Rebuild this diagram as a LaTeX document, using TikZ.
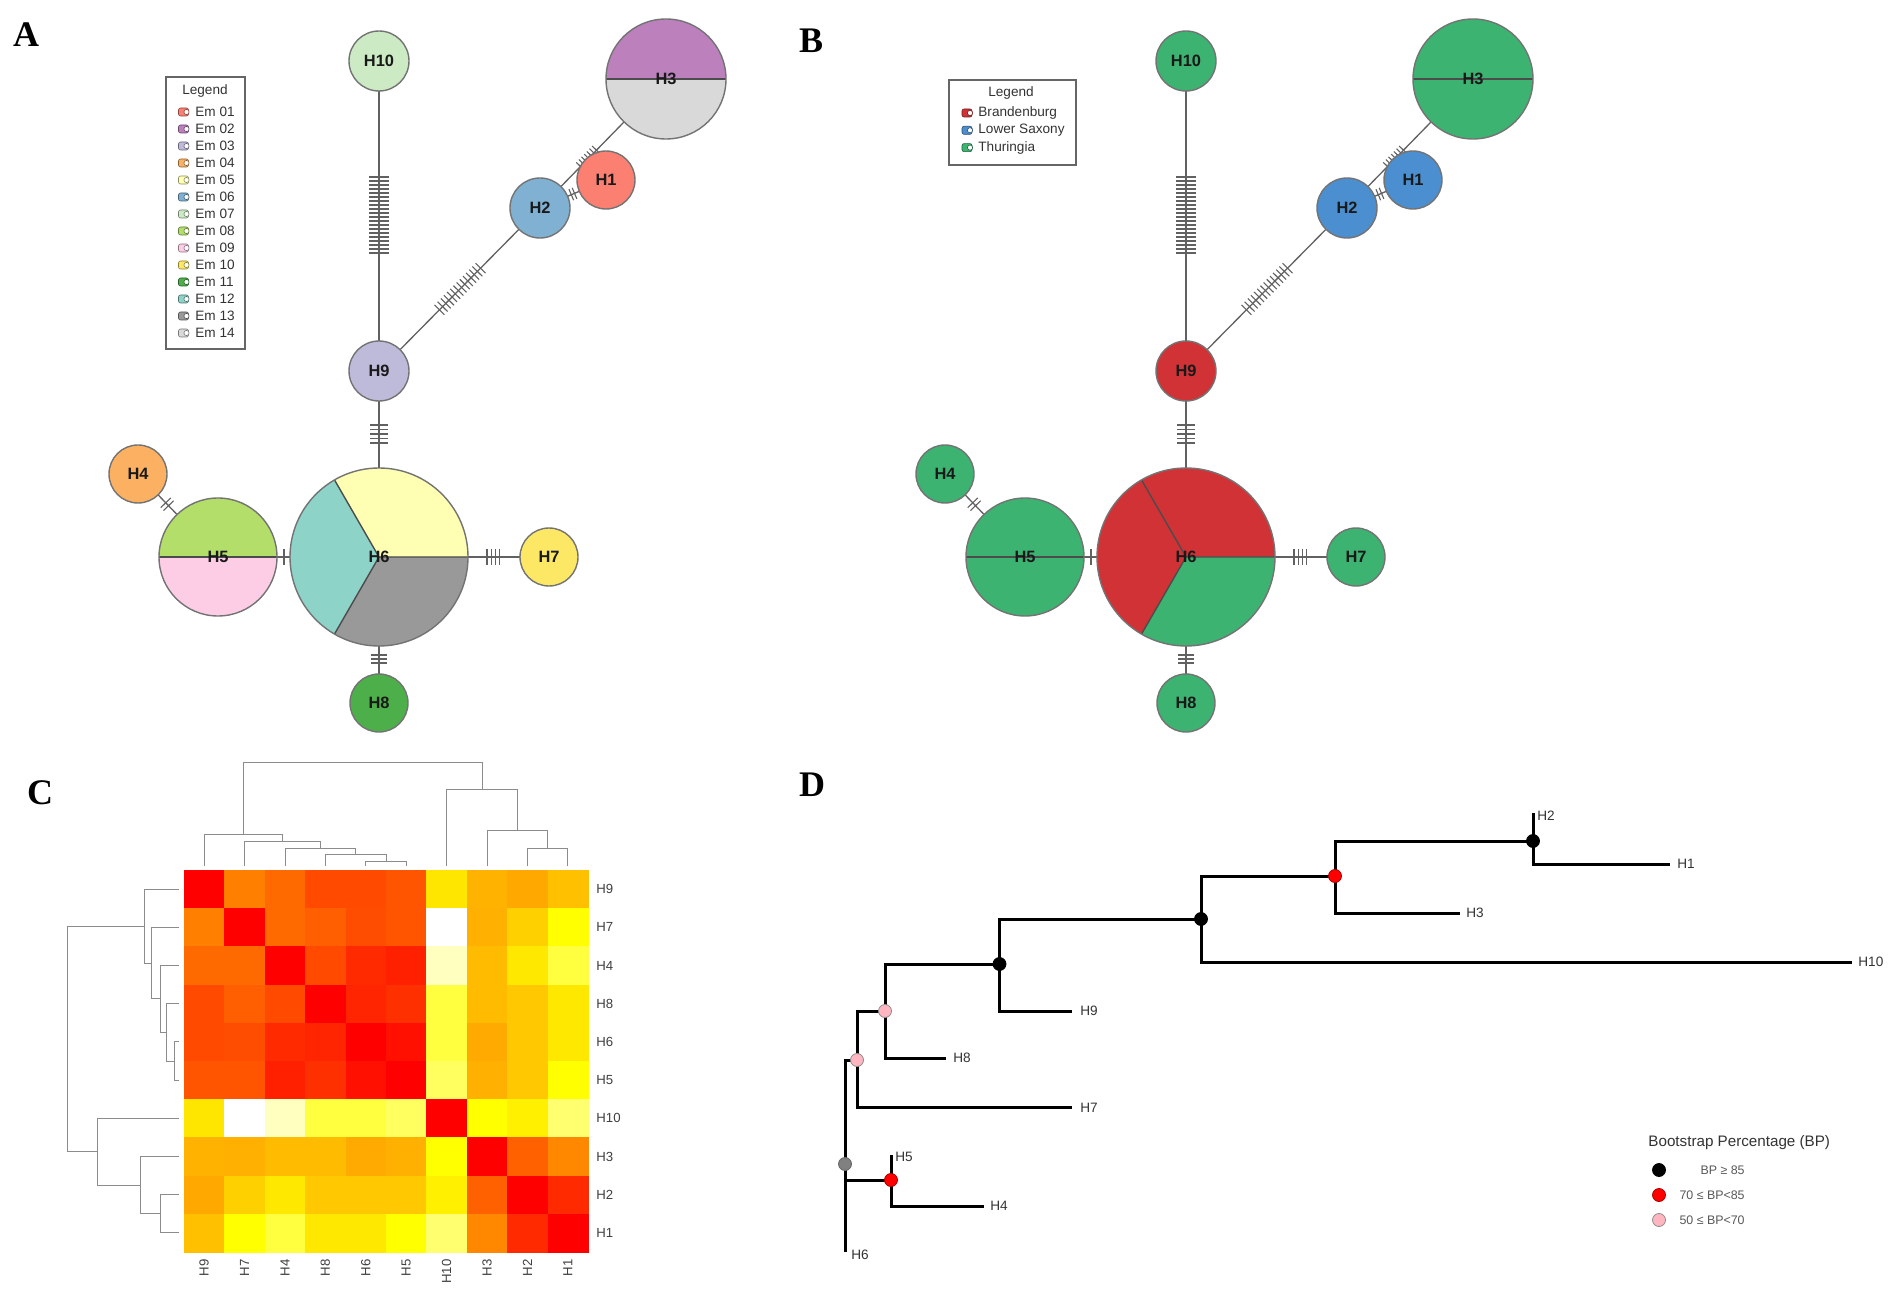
\documentclass[tikz,border=0pt]{standalone}
\usepackage{fontspec}
\setmainfont{Liberation Sans}
\newfontfamily\mypanelfam{Liberation Serif}
\usetikzlibrary{calc}
\pgfdeclarelayer{back}
\pgfdeclarelayer{bg}
\pgfsetlayers{back,bg,main}

\definecolor{em01}{HTML}{FB8072}
\definecolor{em02}{HTML}{BC80BD}
\definecolor{em03}{HTML}{BEBADA}
\definecolor{em04}{HTML}{FBB062}
\definecolor{em05}{HTML}{FFFFB3}
\definecolor{em06}{HTML}{80B1D3}
\definecolor{em07}{HTML}{CCEBC5}
\definecolor{em08}{HTML}{B3DE69}
\definecolor{em09}{HTML}{FCCDE5}
\definecolor{em10}{HTML}{FDE865}
\definecolor{em11}{HTML}{4DAF4A}
\definecolor{em12}{HTML}{8DD3C7}
\definecolor{em13}{HTML}{999999}
\definecolor{em14}{HTML}{D9D9D9}
\definecolor{brand}{HTML}{D03236}
\definecolor{lsax}{HTML}{4B8FD0}
\definecolor{thur}{HTML}{3CB371}
\definecolor{bspinkc}{HTML}{FFB6C1}

% panel A colours
\colorlet{aH1}{em01}\colorlet{aH2}{em06}\colorlet{aH3t}{em02}\colorlet{aH3b}{em14}
\colorlet{aH4}{em04}\colorlet{aH5t}{em08}\colorlet{aH5b}{em09}\colorlet{aH6a}{em05}
\colorlet{aH6b}{em12}\colorlet{aH6c}{em13}\colorlet{aH7}{em10}\colorlet{aH8}{em11}
\colorlet{aH9}{em03}\colorlet{aH10}{em07}
% panel B colours
\colorlet{bH1}{lsax}\colorlet{bH2}{lsax}\colorlet{bH3t}{thur}\colorlet{bH3b}{thur}
\colorlet{bH4}{thur}\colorlet{bH5t}{thur}\colorlet{bH5b}{thur}\colorlet{bH6a}{brand}
\colorlet{bH6b}{brand}\colorlet{bH6c}{thur}\colorlet{bH7}{thur}\colorlet{bH8}{thur}
\colorlet{bH9}{brand}\colorlet{bH10}{thur}

\newcommand\myhapfont{\fontsize{8.2}{9}\selectfont\bfseries}
\newcommand\mylegfont{\fontsize{6.8}{8}\selectfont}
\newcommand\myhmfont{\fontsize{6.6}{8}\selectfont}
\newcommand\mytreefont{\fontsize{6.8}{8}\selectfont}
\newcommand\mypanelfont{\mypanelfam\bfseries\fontsize{18}{20}\selectfont}

\tikzset{
 hap/.style={circle, draw=black!55, line width=0.7pt, inner sep=0pt, font=\myhapfont, text=black!90},
 netedge/.style={draw=black!62, line width=0.65pt},
 tickst/.style={draw=black!62, line width=0.55pt},
 divl/.style={draw=black!70, line width=0.7pt},
 legbox/.style={draw=black!60, line width=0.6pt},
 legtxt/.style={font=\mylegfont, text=black!80, inner sep=0pt},
 dend/.style={draw=black!45, line width=0.5pt},
 hmlab/.style={font=\myhmfont, text=black!75, inner sep=0pt},
 treeln/.style={draw=black, line width=1.5pt, line cap=butt, line join=miter},
 treelab/.style={font=\mytreefont, text=black!80, inner sep=0pt, anchor=west},
 bsnode/.style={circle, inner sep=0pt, minimum size=6.5pt, line width=0.4pt},
 bsblack/.style={bsnode, fill=black, draw=black},
 bsred/.style={bsnode, fill=red, draw=red!65!black},
 bspink/.style={bsnode, fill=bspinkc, draw=black!45},
 bsgrey/.style={bsnode, fill=black!50, draw=black!60},
 panel/.style={font=\mypanelfont, inner sep=0pt},
}

% ticks: A, B, start distance (px), count, spacing (px), half length (px)
\newcommand\myhatch[6]{%
 \foreach \k in {1,...,#4}{%
  \pgfmathsetmacro\dd{(#3+(\k-1)*#5)/2}%
  \pgfmathsetmacro\hl{#6/2}%
  \coordinate (tk) at ($(#1.center)!\dd pt!(#2.center)$);
  \draw[tickst] ($(tk)!\hl pt!90:(#2.center)$) -- ($(tk)!\hl pt!-90:(#2.center)$);
 }}

\newcommand\myhalfpie[4]{%
 \fill[#3] (#1) -- ++(0:#2) arc[start angle=0,end angle=180,radius=#2] -- cycle;
 \fill[#4] (#1) -- ++(180:#2) arc[start angle=180,end angle=360,radius=#2] -- cycle;
 \draw[divl] ($(#1)+(180:#2)$) -- ($(#1)+(0:#2)$);
}
\newcommand\mytripie[5]{%
 \fill[#3] (#1) -- ++(0:#2) arc[start angle=0,end angle=120,radius=#2] -- cycle;
 \fill[#4] (#1) -- ++(120:#2) arc[start angle=120,end angle=240,radius=#2] -- cycle;
 \fill[#5] (#1) -- ++(240:#2) arc[start angle=240,end angle=360,radius=#2] -- cycle;
 \draw[divl] (#1) -- ++(0:#2) (#1) -- ++(120:#2) (#1) -- ++(240:#2);
}

\newcommand\myhapnet[1]{%
 \myhalfpie{666,79}{30pt}{#1H3t}{#1H3b}
 \myhalfpie{218,557}{29.5pt}{#1H5t}{#1H5b}
 \mytripie{379,557}{44.5pt}{#1H6a}{#1H6b}{#1H6c}
 \node[hap, minimum size=60pt] (#1n3) at (666,79) {H3};
 \node[hap, minimum size=59pt] (#1n5) at (218,557) {H5};
 \node[hap, minimum size=89pt] (#1n6) at (379,557) {H6};
 \node[hap, fill=#1H1, minimum size=29pt] (#1n1) at (606,180) {H1};
 \node[hap, fill=#1H2, minimum size=30pt] (#1n2) at (540,208) {H2};
 \node[hap, fill=#1H4, minimum size=29pt] (#1n4) at (138,474) {H4};
 \node[hap, fill=#1H7, minimum size=29pt] (#1n7) at (549,557) {H7};
 \node[hap, fill=#1H8, minimum size=29pt] (#1n8) at (379,703) {H8};
 \node[hap, fill=#1H9, minimum size=30pt] (#1n9) at (379,371) {H9};
 \node[hap, fill=#1H10, minimum size=30pt] (#1n10) at (379,61) {H10};
 \begin{pgfonlayer}{bg}
  \draw[netedge] (#1n10.center) -- (#1n9.center);
  \draw[netedge] (#1n9.center) -- (#1n2.center);
  \draw[netedge] (#1n2.center) -- (#1n3.center);
  \draw[netedge] (#1n2.center) -- (#1n1.center);
  \draw[netedge] (#1n9.center) -- (#1n6.center);
  \draw[netedge] (#1n4.center) -- (#1n5.center);
  \draw[netedge] (#1n5.center) -- (#1n6.center);
  \draw[netedge] (#1n6.center) -- (#1n7.center);
  \draw[netedge] (#1n6.center) -- (#1n8.center);
  \myhatch{#1n10}{#1n9}{116}{20}{4}{10}
  \myhatch{#1n9}{#1n2}{86}{14}{4.5}{7}
  \myhatch{#1n2}{#1n3}{58}{7}{3.8}{6}
  \myhatch{#1n2}{#1n1}{34}{2}{3.5}{6}
  \myhatch{#1n9}{#1n6}{54}{5}{4.5}{9}
  \myhatch{#1n4}{#1n5}{40}{2}{4}{7}
  \myhatch{#1n5}{#1n6}{66}{1}{0}{8}
  \myhatch{#1n6}{#1n7}{108}{4}{4.3}{8}
  \myhatch{#1n6}{#1n8}{98}{3}{4}{8}
 \end{pgfonlayer}
}

\newcommand\mylegicon[3]{%
 \filldraw[fill=#3, draw=#3!55!black, line width=0.3pt, rounded corners=1pt] (#1,#2) ++(-5,-4) rectangle ++(10,8);
 \filldraw[fill=white, draw=#3!55!black, line width=0.3pt] (#1,#2) ++(3,0) circle (1.3pt);
}

\begin{document}
\begin{tikzpicture}[x=0.5pt,y=-0.5pt]
\useasboundingbox (0,0) rectangle (1902,1294);
\begin{pgfonlayer}{back}
\fill[white] (0,0) rectangle (1902,1294);
\end{pgfonlayer}

% ---------- panel letters ----------
\node[panel] (labA) at (26,35) {A};
\node[panel] (labB) at (811,41) {B};
\node[panel] (labC) at (40,793) {C};
\node[panel] (labD) at (812,785) {D};

% ---------- panel A ----------
\myhapnet{a}
\draw[legbox] (166,77) rectangle (245,349);
\node[legtxt] (alegt) at (205,91) {Legend};
\foreach \c/\t [count=\i from 0] in {em01/Em 01,em02/Em 02,em03/Em 03,em04/Em 04,em05/Em 05,em06/Em 06,em07/Em 07,em08/Em 08,em09/Em 09,em10/Em 10,em11/Em 11,em12/Em 12,em13/Em 13,em14/Em 14}{
  \pgfmathsetmacro\yy{112+17*\i}
  \mylegicon{183.5}{\yy}{\c}
  \node[legtxt, anchor=west] (ale\i) at (195,\yy) {\t};
}

% ---------- panel B ----------
\begin{scope}[shift={(807,0)}]
\myhapnet{b}
\end{scope}
\draw[legbox] (949,80) rectangle (1076,165);
\node[legtxt] (blegt) at (1011,93) {Legend};
\foreach \c/\t [count=\i from 0] in {brand/Brandenburg,lsax/Lower Saxony,thur/Thuringia}{
  \pgfmathsetmacro\yy{113+17.3*\i}
  \mylegicon{967}{\yy}{\c}
  \node[legtxt, anchor=west] (ble\i) at (978,\yy) {\t};
}

% ---------- panel C: heatmap ----------
\foreach \rowdata [count=\r from 0] in {
 {0/0,128/0,106/0,74/0,74/0,85/0,230/0,179/0,168/0,192/0},
 {128/0,0/0,106/0,95/0,77/0,85/0,255/255,176/0,208/0,255/0},
 {106/0,106/0,0/0,74/0,42/0,32/0,255/192,187/0,232/0,255/64},
 {74/0,95/0,74/0,0/0,37/0,48/0,255/64,187/0,200/0,232/0},
 {74/0,77/0,42/0,37/0,0/0,16/0,255/64,170/0,200/0,232/0},
 {85/0,85/0,32/0,48/0,16/0,0/0,255/96,176/0,200/0,255/0},
 {230/0,255/255,255/192,255/64,255/64,255/96,0/0,255/0,240/0,255/112},
 {179/0,176/0,187/0,187/0,170/0,176/0,255/0,0/0,96/0,136/0},
 {168/0,208/0,232/0,200/0,200/0,200/0,240/0,96/0,0/0,42/0},
 {192/0,255/0,255/64,232/0,232/0,255/0,255/112,136/0,42/0,0/0}}{
  \foreach \g/\b [count=\c from 0] in \rowdata {
    \pgfmathsetmacro\hx{184+\c*40.4}
    \pgfmathsetmacro\hy{870+\r*38.2}
    \fill[color={rgb,255:red,255;green,\g;blue,\b}] (\hx,\hy) rectangle ++(40.9,38.7);
  }
}
\foreach \lab [count=\i from 0] in {H9,H7,H4,H8,H6,H5,H10,H3,H2,H1}{
  \pgfmathsetmacro\ry{870+(\i+0.5)*38.2}
  \pgfmathsetmacro\cx{184+(\i+0.5)*40.4}
  \node[hmlab, anchor=west] (rl\i) at (596,\ry) {\lab};
  \node[hmlab, rotate=90, anchor=east] (cl\i) at (\cx,1259) {\lab};
}
% column dendrogram
\draw[dend] (365.8,866) -- (365.8,861.9) -- (406.2,861.9) -- (406.2,866);
\draw[dend] (325.4,866) -- (325.4,854.8) -- (386,854.8) -- (386,861.9);
\draw[dend] (285,866) -- (285,848.8) -- (355.7,848.8) -- (355.7,854.8);
\draw[dend] (244.6,866) -- (244.6,841.8) -- (320.35,841.8) -- (320.35,848.8);
\draw[dend] (204.2,866) -- (204.2,834.7) -- (282.5,834.7) -- (282.5,841.8);
\draw[dend] (527.4,866) -- (527.4,848.8) -- (567.8,848.8) -- (567.8,866);
\draw[dend] (487,866) -- (487,830) -- (547.6,830) -- (547.6,848.8);
\draw[dend] (446.6,866) -- (446.6,789.5) -- (517.3,789.5) -- (517.3,830);
\draw[dend] (243.35,834.7) -- (243.35,762) -- (482,762) -- (482,789.5);
% row dendrogram
\draw[dend] (179,1041.9) -- (174.7,1041.9) -- (174.7,1080.1) -- (179,1080.1);
\draw[dend] (179,1003.7) -- (166.8,1003.7) -- (166.8,1061) -- (174.7,1061);
\draw[dend] (179,965.5) -- (160.7,965.5) -- (160.7,1032.35) -- (166.8,1032.35);
\draw[dend] (179,927.3) -- (151.6,927.3) -- (151.6,998.9) -- (160.7,998.9);
\draw[dend] (179,889.1) -- (144.3,889.1) -- (144.3,963.1) -- (151.6,963.1);
\draw[dend] (179,1194.7) -- (160.7,1194.7) -- (160.7,1232.9) -- (179,1232.9);
\draw[dend] (179,1156.5) -- (140.7,1156.5) -- (140.7,1213.8) -- (160.7,1213.8);
\draw[dend] (179,1118.3) -- (97,1118.3) -- (97,1185.15) -- (140.7,1185.15);
\draw[dend] (144.3,926.1) -- (67.9,926.1) -- (67.9,1151.7) -- (97,1151.7);

% ---------- panel D: tree ----------
\node[bsgrey] (tR) at (845,1164) {};
\node[bspink] (tP1) at (857,1060) {};
\node[bspink] (tP2) at (885,1011) {};
\node[bsblack] (tK1) at (999.5,964) {};
\node[bsblack] (tK2) at (1201,919) {};
\node[bsred] (tD1) at (1335,876) {};
\node[bsblack] (tK3) at (1533,841) {};
\node[bsred] (tD2) at (891,1180) {};
\coordinate (tJ) at (845,1180);
\coordinate (lH6) at (845,1252);
\coordinate (lH7) at (1072,1107.5);
\coordinate (lH8) at (946,1058);
\coordinate (lH9) at (1072,1011);
\coordinate (lH10) at (1852,962);
\coordinate (lH3) at (1460,913);
\coordinate (lH2) at (1533,813);
\coordinate (lH1) at (1670,864);
\coordinate (lH5) at (891,1155);
\coordinate (lH4) at (984,1206);
\begin{pgfonlayer}{bg}
 \draw[treeln] (lH6) |- (tP1.center);
 \draw[treeln] (tP1.center) |- (tP2.center);
 \draw[treeln] (tP1.center) |- (lH7);
 \draw[treeln] (tP2.center) |- (tK1.center);
 \draw[treeln] (tP2.center) |- (lH8);
 \draw[treeln] (tK1.center) |- (tK2.center);
 \draw[treeln] (tK1.center) |- (lH9);
 \draw[treeln] (tK2.center) |- (tD1.center);
 \draw[treeln] (tK2.center) |- (lH10);
 \draw[treeln] (tD1.center) |- (tK3.center);
 \draw[treeln] (tD1.center) |- (lH3);
 \draw[treeln] (tK3.center) -- (lH2);
 \draw[treeln] (tK3.center) |- (lH1);
 \draw[treeln] (tJ) -- (tD2.center);
 \draw[treeln] (tD2.center) -- (lH5);
 \draw[treeln] (tD2.center) |- (lH4);
\end{pgfonlayer}
\node[treelab] (tl6) at (851,1255) {H6};
\node[treelab] (tl7) at (1080,1107.5) {H7};
\node[treelab] (tl8) at (953,1058) {H8};
\node[treelab] (tl9) at (1080,1011) {H9};
\node[treelab] (tl10) at (1858,962) {H10};
\node[treelab] (tl3) at (1466,913) {H3};
\node[treelab] (tl2) at (1537,816) {H2};
\node[treelab] (tl1) at (1677,864) {H1};
\node[treelab] (tl5) at (895,1157) {H5};
\node[treelab] (tl4) at (990,1206) {H4};

% bootstrap legend
\node[font=\fontsize{7.6}{9}\selectfont, text=black!80, inner sep=0pt, anchor=west] (bpt) at (1648,1143) {Bootstrap Percentage (BP)};
\node[bsblack] (bp1) at (1659,1170) {};
\node[bsred] (bp2) at (1659,1195) {};
\node[bspink] (bp3) at (1659,1220) {};
\node[font=\fontsize{6.2}{8}\selectfont, text=black!65, inner sep=0pt, anchor=east] (bpl1) at (1745,1170) {BP ≥ 85};
\node[font=\fontsize{6.2}{8}\selectfont, text=black!65, inner sep=0pt, anchor=east] (bpl2) at (1745,1195) {70 ≤ BP<85};
\node[font=\fontsize{6.2}{8}\selectfont, text=black!65, inner sep=0pt, anchor=east] (bpl3) at (1745,1220) {50 ≤ BP<70};
\end{tikzpicture}
\end{document}
